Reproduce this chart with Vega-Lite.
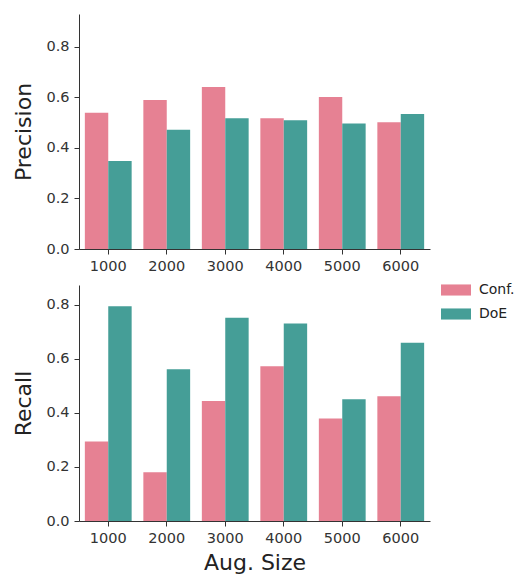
{
  "$schema": "https://vega.github.io/schema/vega-lite/v6.json",
  "background": "white",
  "padding": {"left": 12, "top": 14, "right": 5, "bottom": 5},
  "spacing": 12,
  "config": {
    "view": {"stroke": null},
    "axis": {
      "grid": false,
      "domainColor": "#333333",
      "tickColor": "#333333",
      "labelColor": "#333333",
      "titleColor": "#222222",
      "labelFont": "DejaVu Sans",
      "titleFont": "DejaVu Sans",
      "labelFontSize": 14.5,
      "titleFontSize": 22,
      "titleFontWeight": "normal",
      "tickSize": 5,
      "labelPadding": 5
    },
    "legend": {
      "labelFont": "DejaVu Sans",
      "labelFontSize": 14,
      "labelColor": "#222222"
    }
  },
  "data": {
    "values": [
      {"size": "1000", "method": "Conf.", "precision": 0.539, "recall": 0.294},
      {"size": "1000", "method": "DoE", "precision": 0.348, "recall": 0.795},
      {"size": "2000", "method": "Conf.", "precision": 0.590, "recall": 0.181},
      {"size": "2000", "method": "DoE", "precision": 0.472, "recall": 0.562},
      {"size": "3000", "method": "Conf.", "precision": 0.641, "recall": 0.444},
      {"size": "3000", "method": "DoE", "precision": 0.517, "recall": 0.753},
      {"size": "4000", "method": "Conf.", "precision": 0.517, "recall": 0.573},
      {"size": "4000", "method": "DoE", "precision": 0.510, "recall": 0.731},
      {"size": "5000", "method": "Conf.", "precision": 0.602, "recall": 0.380},
      {"size": "5000", "method": "DoE", "precision": 0.497, "recall": 0.451},
      {"size": "6000", "method": "Conf.", "precision": 0.502, "recall": 0.462},
      {"size": "6000", "method": "DoE", "precision": 0.534, "recall": 0.660}
    ]
  },
  "vconcat": [
    {
      "width": 351,
      "height": 235,
      "mark": {"type": "bar"},
      "encoding": {
        "x": {"field": "size", "type": "nominal", "title": null,
              "scale": {"paddingInner": 0.2, "paddingOuter": 0.1},
              "axis": {"labelAngle": 0}},
        "xOffset": {"field": "method", "type": "nominal", "scale": {"paddingInner": 0, "paddingOuter": 0}},
        "y": {"field": "precision", "type": "quantitative", "title": "Precision",
              "scale": {"domain": [0, 0.93], "nice": false},
              "axis": {"values": [0, 0.2, 0.4, 0.6, 0.8], "format": ".1f", "titlePadding": 10}},
        "color": {"field": "method", "type": "nominal",
                  "scale": {"domain": ["Conf.", "DoE"], "range": ["#e68193", "#459e97"]},
                  "legend": {"title": null, "orient": "none", "legendX": 362, "legendY": 261,
                             "symbolType": "M-1,-0.37H1V0.37H-1Z", "symbolSize": 900,
                             "symbolStrokeWidth": 0, "labelOffset": 8, "rowPadding": 2}}
      }
    },
    {
      "width": 351,
      "height": 236,
      "mark": {"type": "bar"},
      "encoding": {
        "x": {"field": "size", "type": "nominal", "title": "Aug. Size",
              "scale": {"paddingInner": 0.2, "paddingOuter": 0.1},
              "axis": {"labelAngle": 0, "titlePadding": 8}},
        "xOffset": {"field": "method", "type": "nominal", "scale": {"paddingInner": 0, "paddingOuter": 0}},
        "y": {"field": "recall", "type": "quantitative", "title": "Recall",
              "scale": {"domain": [0, 0.874], "nice": false},
              "axis": {"values": [0, 0.2, 0.4, 0.6, 0.8], "format": ".1f", "titlePadding": 10}},
        "color": {"field": "method", "type": "nominal"}
      }
    }
  ]
}
